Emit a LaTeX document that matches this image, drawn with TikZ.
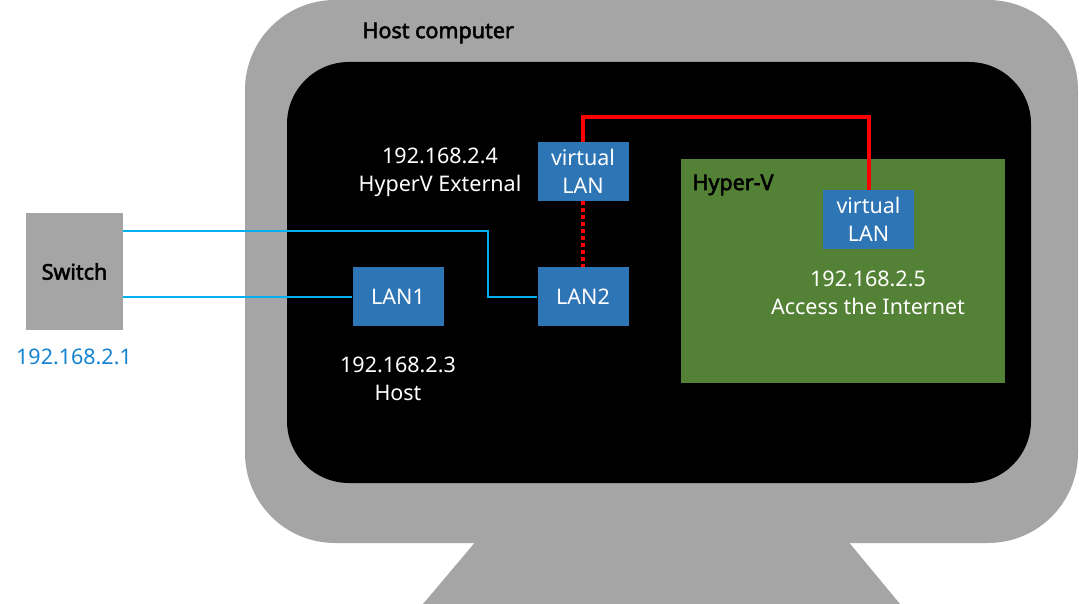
\documentclass[tikz,border=0pt]{standalone}
\usepackage{fontspec}
\setmainfont{Noto Sans}[AutoFakeBold=2.5]
\usetikzlibrary{positioning}

\definecolor{monitorgray}{HTML}{A5A5A5}
\definecolor{lanblue}{HTML}{2E75B6}
\definecolor{hypergreen}{HTML}{538135}
\definecolor{cablecyan}{HTML}{00B0F0}
\definecolor{ipblue}{HTML}{1483D0}

\tikzset{
  lanbox/.style={fill=lanblue, text=white, minimum width=91pt, minimum height=59pt,
    inner sep=0pt, align=center, font=\fontsize{21.5}{28}\selectfont},
  iplabel/.style={text=white, align=center, font=\fontsize{21.5}{28}\selectfont},
  cable/.style={cablecyan, line width=2pt},
  redline/.style={red, line width=4pt},
  titlelabel/.style={font=\bfseries\fontsize{21.5}{24}\selectfont}
}

\begin{document}
\begin{tikzpicture}[x=1pt,y=-1pt]
      \useasboundingbox (0,0) rectangle (1079,604);
      % monitor
      \fill[monitorgray] (477,540) -- (847,540) -- (900,604) -- (423,604) -- cycle;
      \fill[monitorgray, rounded corners=90] (245,0) rectangle (1078,543);
      \fill[black, rounded corners=62] (287,62) rectangle (1031,483);
      \node[titlelabel, anchor=west] (hosttitle) at (359,33) {Host computer};
      % hyper-v
      \fill[hypergreen] (681,159) rectangle (1005,383);
      \node[titlelabel, anchor=west] (hypertitle) at (689,185) {Hyper-V};
      % switch
      \node[fill=monitorgray, minimum width=97pt, minimum height=117pt, inner sep=0pt,
        titlelabel] (switch) at (74.5,271.5) {Switch};
      \node[text=ipblue, font=\fontsize{21.5}{24}\selectfont] (switchip) at (74,357) {192.168.2.1};
      % lans
      \node[lanbox] (lan1) at (398,296.5) {LAN1};
      \node[lanbox] (lan2) at (583,296.5) {LAN2};
      \node[lanbox] (vlan) at (583,171.5) {virtual\\LAN};
      \node[lanbox] (vlanb) at (868.5,219.5) {virtual\\LAN};
      \node[iplabel] (lan1ip) at (398,379) {192.168.2.3\\Host};
      \node[iplabel] (vlanip) at (440,172) {192.168.2.4\\HyperV External};
      \node[iplabel] (vlanbip) at (868,293) {192.168.2.5\\Access the Internet};
      % connections
      \coordinate (bend) at (488,231);
      \coordinate (redtop) at (583,117);
      \draw[cable] (switch.east |- bend) -- (bend) |- (lan2.west);
      \draw[cable] (switch.east |- lan1.west) -- (lan1.west);
      \draw[redline, dash pattern=on 4pt off 3pt] (vlan.south) -- (lan2.north);
      \draw[redline] (vlan.north) -- (redtop) -| (vlanb.north);
\end{tikzpicture}
\end{document}
